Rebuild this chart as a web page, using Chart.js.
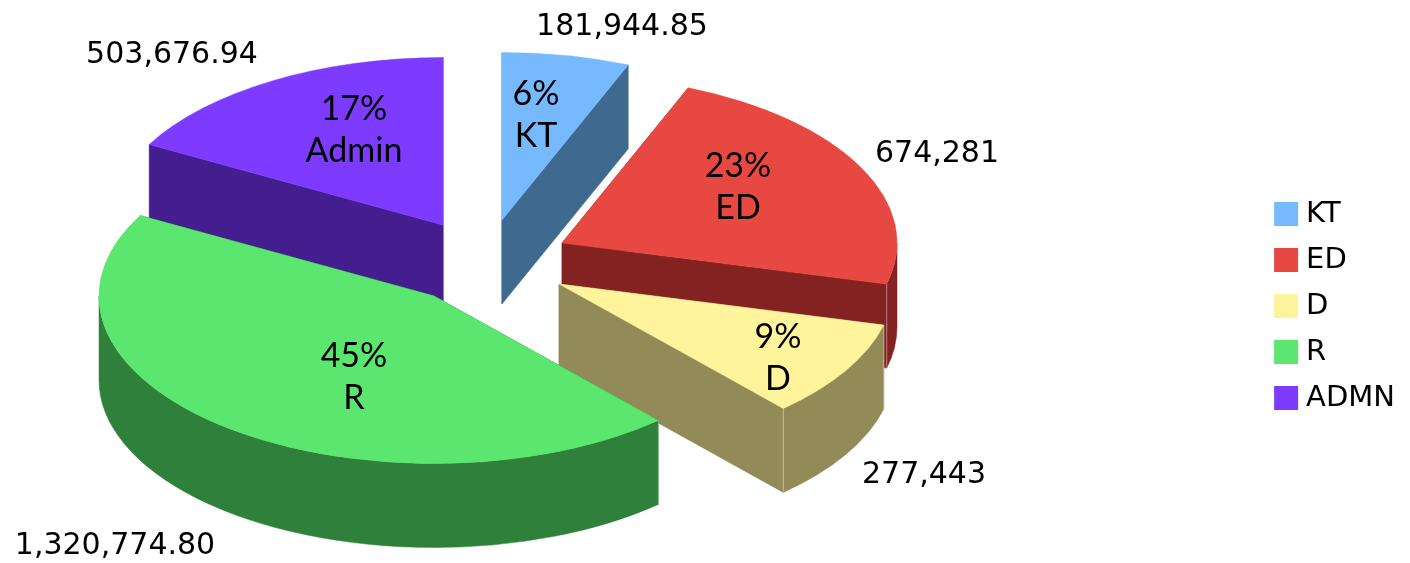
<!DOCTYPE html>
<html>
<head>
<meta charset="utf-8">
<style>html,body{margin:0;padding:0;background:#fff}canvas{display:block}</style>
<script src="https://cdn.jsdelivr.net/npm/chart.js@4"></script>
</head>
<body>
<canvas id="c" width="1410" height="563"></canvas>
<script>
const categories = ['KT', 'ED', 'D', 'R', 'ADMN'];
const values = [181944.85, 674281, 277443, 1320774.80, 503676.94];
const valueLabels = ['181,944.85', '674,281', '277,443', '1,320,774.80', '503,676.94'];
const percentLabels = ['6%', '23%', '9%', '45%', '17%'];
const nameLabels = ['KT', 'ED', 'D', 'R', 'Admin'];
const topColors = ['#76B9FF', '#E84842', '#FFF39B', '#5BE66F', '#7C3BFF'];
const wallColors = ['#3F6A90', '#832220', '#938B57', '#2E803A', '#441E8F'];

const pie3d = {
  id: 'pie3d',
  beforeDatasetsDraw(chart, args, o) {
    const ctx = chart.ctx;
    const arcs = chart.getDatasetMeta(0).data;
    const frontEnd = Math.PI;
    const shift = i => [o.center[0] + o.explode[i][0], o.center[1] + o.explode[i][1]];
    ctx.save();
    for (const i of o.order) {
      const arc = arcs[i];
      const [cx, cy] = shift(i);
      const rx = arc.outerRadius, ry = rx * o.squash, d = o.depth;
      const a = arc.startAngle, b = arc.endAngle;
      const pt = t => [cx + rx * Math.cos(t), cy + ry * Math.sin(t)];
      ctx.fillStyle = ctx.strokeStyle = wallColors[i];
      ctx.lineWidth = 0.5;
      // flat cut faces
      for (const t of [a, b]) {
        const [px, py] = pt(t);
        ctx.beginPath();
        ctx.moveTo(cx, cy); ctx.lineTo(px, py); ctx.lineTo(px, py + d); ctx.lineTo(cx, cy + d);
        ctx.closePath(); ctx.fill(); ctx.stroke();
      }
      // curved outer wall: only the part that faces the viewer
      const s = Math.max(a, 0), e = Math.min(b, frontEnd);
      if (e > s) {
        ctx.beginPath();
        ctx.ellipse(cx, cy, rx, ry, 0, s, e, false);
        ctx.ellipse(cx, cy + d, rx, ry, 0, e, s, true);
        ctx.closePath(); ctx.fill(); ctx.stroke();
        // light seam on the wall corners
        ctx.save();
        ctx.strokeStyle = 'rgba(255,255,255,0.4)';
        ctx.lineWidth = 1;
        const seams = [];
        if (a > 0) seams.push(a);
        if (b < frontEnd) seams.push(b);
        for (const t of seams) {
          const [px, py] = pt(t);
          ctx.beginPath(); ctx.moveTo(px, py); ctx.lineTo(px, py + d); ctx.stroke();
        }
        ctx.restore();
      }
      // top surface
      ctx.fillStyle = ctx.strokeStyle = topColors[i];
      ctx.beginPath();
      ctx.moveTo(cx, cy);
      ctx.ellipse(cx, cy, rx, ry, 0, a, b, false);
      ctx.closePath(); ctx.fill(); ctx.stroke();
    }
    // texts
    ctx.fillStyle = '#000';
    ctx.textAlign = 'center';
    ctx.textBaseline = 'middle';
    arcs.forEach((arc, i) => {
      const [cx, cy] = shift(i);
      ctx.font = o.innerFont;
      const [ix, iy] = o.innerOffset[i];
      ctx.fillText(percentLabels[i], cx + ix, cy + iy - o.innerLine / 2);
      ctx.fillText(nameLabels[i], cx + ix, cy + iy + o.innerLine / 2);
      ctx.font = o.outerFont;
      const [vx, vy] = o.outerOffset[i];
      ctx.fillText(valueLabels[i], cx + vx, cy + vy);
    });
    ctx.restore();
    return false;
  }
};

new Chart(document.getElementById('c'), {
  type: 'pie',
  data: {
    labels: categories,
    datasets: [{ data: values, backgroundColor: topColors, borderWidth: 0 }]
  },
  options: {
    responsive: false,
    animation: false,
    radius: 335,
    layout: { padding: { top: 49, right: 5 } },
    plugins: {
      tooltip: { enabled: false },
      title: { display: false },
      legend: {
        position: 'right',
        labels: {
          font: { family: '"DejaVu Sans"', size: 29 },
          color: '#000',
          padding: 17,
          boxWidth: 11,
          boxHeight: 11,
          generateLabels: () => categories.map((t, i) => ({
            text: t, fillStyle: topColors[i], strokeStyle: topColors[i],
            lineWidth: 13, fontColor: '#000', hidden: false, index: i
          }))
        }
      },
      pie3d: {
        center: [500, 260],
        squash: 0.5,
        depth: 84,
        order: [0, 4, 1, 2, 3],
        explode: [[2, -40], [62, -17], [59, 24], [-66, 36], [-57, -35]],
        innerFont: '34px Lato',
        innerLine: 42,
        innerOffset: [[34, -105], [176, -56], [219, 74], [-80, 81], [-89, -95]],
        outerFont: '30px "DejaVu Sans"',
        outerOffset: [[120, -193], [375, -89], [365, 191], [-319, 250], [-271, -170]]
      }
    }
  },
  plugins: [pie3d]
});
</script>
</body>
</html>
